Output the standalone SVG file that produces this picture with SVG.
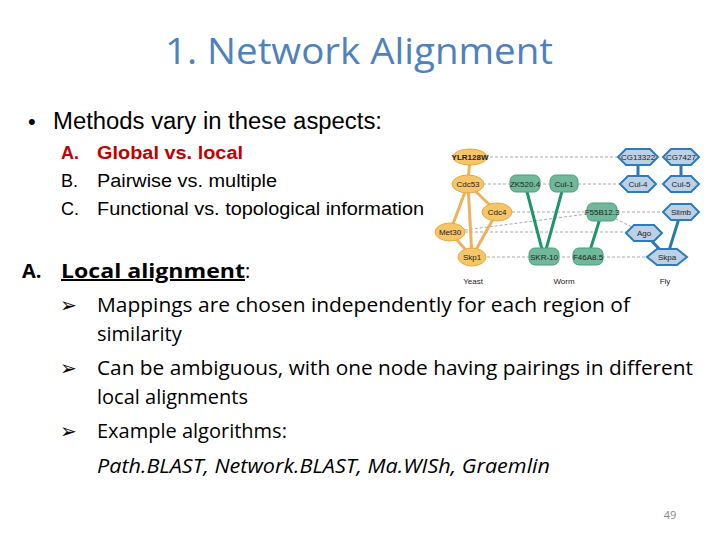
<svg xmlns="http://www.w3.org/2000/svg" width="720" height="540" viewBox="0 0 720 540">
<style>
.t{font-family:"Liberation Sans",Arial,sans-serif}
.c{font-family:"Open Sans","Liberation Sans",sans-serif}
.y{fill:#F5C56A;stroke:#E9A93C;stroke-width:1}
.w{fill:#6FB89A;stroke:#4E9E7E;stroke-width:1}
.f{fill:#BCD0E6;stroke:#2F7BB5;stroke-width:2}
.nl{font-family:"Liberation Sans",Arial,sans-serif;font-size:8px;text-anchor:middle;fill:#222}
.d{stroke:#AAA;stroke-width:1;stroke-dasharray:3,2;fill:none}
.eo{stroke:#EDB25C;stroke-width:3}
.eg{stroke:#1E9468;stroke-width:3}
.eb{stroke:#2B7AAF;stroke-width:3}
</style>
<rect width="720" height="540" fill="#fff"/>
<text x="165" y="64" class="c" font-size="37" fill="#4F81BD" textLength="388" lengthAdjust="spacingAndGlyphs">1. Network Alignment</text>
<text x="28" y="129" class="t" font-size="22" fill="#000">•</text>
<text x="53" y="129" class="t" font-size="23" fill="#000" textLength="329" lengthAdjust="spacingAndGlyphs">Methods vary in these aspects:</text>
<g class="t" font-size="18">
<text x="61" y="159" fill="#C00000" font-weight="bold">A.</text><text x="97" y="159" fill="#C00000" font-weight="bold" textLength="146" lengthAdjust="spacingAndGlyphs">Global vs. local</text>
<text x="61" y="187">B.</text><text x="97" y="187" textLength="180" lengthAdjust="spacingAndGlyphs">Pairwise vs. multiple</text>
<text x="61" y="215">C.</text><text x="97" y="215" textLength="327" lengthAdjust="spacingAndGlyphs">Functional vs. topological information</text>
</g>
<g class="c" font-size="20" fill="#000">
<text x="22" y="278" font-weight="bold">A.</text>
<text x="61" y="278" font-weight="bold" text-decoration="underline" textLength="184" lengthAdjust="spacingAndGlyphs">Local alignment</text><text x="245" y="278">:</text>
<text x="60" y="312" font-family="DejaVu Sans">➢</text>
<text x="97" y="312" textLength="533" lengthAdjust="spacingAndGlyphs">Mappings are chosen independently for each region of</text>
<text x="97" y="341">similarity</text>
<text x="60" y="375" font-family="DejaVu Sans">➢</text>
<text x="97" y="375" textLength="596" lengthAdjust="spacingAndGlyphs">Can be ambiguous, with one node having pairings in different</text>
<text x="97" y="404">local alignments</text>
<text x="60" y="438" font-family="DejaVu Sans">➢</text>
<text x="97" y="438">Example algorithms:</text>
<text x="97" y="473" font-style="italic" textLength="453" lengthAdjust="spacingAndGlyphs">Path.BLAST, Network.BLAST, Ma.WISh, Graemlin</text>
</g>
<text x="670" y="519" text-anchor="middle" class="c" font-size="11" fill="#888">49</text>
<g id="connectors">
<path class="d" d="M470 157H638M468 184H638M497 212H681M450 232L602 212M450 232H644M602 212L644 233M472 257H667"/>
<path class="eo" d="M470 157L468 184M468 184L450 232M468 184L472 257M468 184L497 212M497 212L472 257M450 232L472 257"/>
<path class="eg" d="M525 184L544 257M564 184L544 257M602 212L588 257"/>
<path class="eb" d="M638 157V184M681 157V184M681 212L667 257M644 233L667 257"/>
</g>
<g id="yeast">
<ellipse class="y" cx="470" cy="157" rx="17" ry="8"/><text class="nl" x="470" y="160" font-weight="bold">YLR128W</text>
<ellipse class="y" cx="468" cy="184" rx="16" ry="9"/><text class="nl" x="468" y="187">Cdc53</text>
<ellipse class="y" cx="497" cy="212" rx="15" ry="9"/><text class="nl" x="497" y="215">Cdc4</text>
<ellipse class="y" cx="450" cy="232" rx="15" ry="9"/><text class="nl" x="450" y="235">Met30</text>
<ellipse class="y" cx="472" cy="257" rx="14" ry="9"/><text class="nl" x="472" y="260">Skp1</text>
</g>
<g id="worm">
<rect class="w" x="510" y="175" width="30" height="17" rx="6"/><text class="nl" x="525" y="187">ZK520.4</text>
<rect class="w" x="550" y="175" width="28" height="17" rx="6"/><text class="nl" x="564" y="187">Cul-1</text>
<rect class="w" x="587" y="203" width="30" height="18" rx="6"/><text class="nl" x="602" y="215">F55B12.3</text>
<rect class="w" x="529" y="248" width="30" height="17" rx="6"/><text class="nl" x="544" y="260">SKR-10</text>
<rect class="w" x="573" y="248" width="30" height="17" rx="6"/><text class="nl" x="588" y="260">F46A8.5</text>
</g>
<g id="fly">
<polygon class="f" points="618,157 626,149 650,149 658,157 650,165 626,165"/><text class="nl" x="638" y="160">CG13322</text>
<polygon class="f" points="663,157 671,149 691,149 699,157 691,165 671,165"/><text class="nl" x="681" y="160">CG7427</text>
<polygon class="f" points="620,184 628,176 648,176 656,184 648,192 628,192"/><text class="nl" x="638" y="187">Cul-4</text>
<polygon class="f" points="663,184 671,176 691,176 699,184 691,192 671,192"/><text class="nl" x="681" y="187">Cul-5</text>
<polygon class="f" points="663,212 671,204 691,204 699,212 691,220 671,220"/><text class="nl" x="681" y="215">Slimb</text>
<polygon class="f" points="626,233 634,225 654,225 662,233 654,241 634,241"/><text class="nl" x="644" y="236">Ago</text>
<polygon class="f" points="647,257 657,249 677,249 687,257 677,265 657,265"/><text class="nl" x="667" y="260">Skpa</text>
</g>
<g class="nl" font-size="9" fill="#444">
<text x="473" y="284">Yeast</text><text x="564" y="284">Worm</text><text x="665" y="284">Fly</text>
</g>
</svg>
